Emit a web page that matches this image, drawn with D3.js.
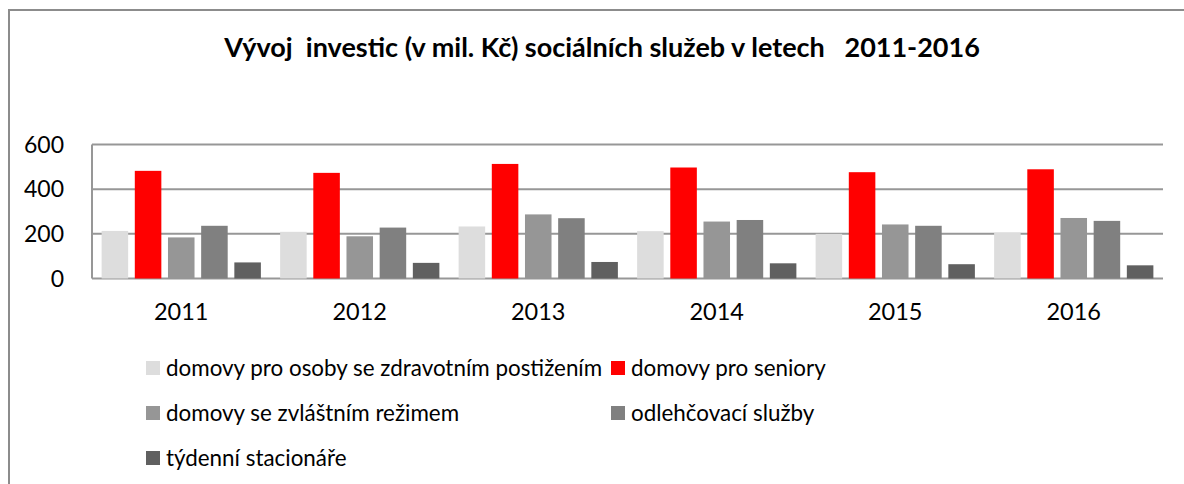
<!DOCTYPE html>
<html>
<head>
<meta charset="utf-8">
<script src="https://cdn.jsdelivr.net/npm/d3@7"></script>
<style>
  body { margin: 0; background: #fff; }
  svg { display: block; font-family: Lato, "Open Sans", sans-serif; }
</style>
</head>
<body>
<svg></svg>
<script>
const years = ["2011", "2012", "2013", "2014", "2015", "2016"]
const seriesNames = [
    "domovy pro osoby se zdravotním postižením",
    "domovy pro seniory",
    "domovy se zvláštním režimem",
    "odlehčovací služby",
    "týdenní stacionáře"
]
const seriesColors = ["#dddddd", "#ff0000", "#969696", "#808080", "#606060"]

// hodnoty per serie, v pořadí roků
const zdravotni = [213, 209, 233, 212, 200, 204]
const seniori = [482, 473, 513, 497, 476, 489]
const rezim = [184, 189, 287, 255, 242, 271]
const odlehcovaci = [236, 228, 270, 262, 236, 258]
const stacionare = [72, 70, 74, 68, 64, 59]
const yTicks = [0, 200, 400, 600]

const allSeries = [zdravotni, seniori, rezim, odlehcovaci, stacionare]

const width = 1184
const height = 484
const svg = d3.select('svg')
    .attr("width", width)
    .attr("height", height)

// rámeček grafu
svg.append("path")
    .attr("d", `M9,${height} V10 H${width}`)
    .attr("fill", "none")
    .attr("stroke", "#8c8c8c")
    .attr("stroke-width", 2)

svg.append("text")
    .attr("x", 602)
    .attr("y", 57)
    .attr("text-anchor", "middle")
    .attr("font-weight", "bold")
    .attr("font-size", 27)
    .attr("fill", "#000")
    .style("white-space", "pre")
    .text("Vývoj  investic (v mil. Kč) sociálních služeb v letech   2011-2016")

const plot = { left: 92, right: 1163, top: 144.5, bottom: 278.5 }

const x = d3.scaleBand()
    .domain(years)
    .range([plot.left, plot.right])

const xInner = d3.scaleBand()
    .domain(d3.range(seriesNames.length))
    .range([0, x.bandwidth()])
    .paddingInner(0.2)
    .paddingOuter(0.29)

const y = d3.scaleLinear()
    .domain([0, 600])
    .range([plot.bottom, plot.top])

// mřížka
svg.append("g")
    .selectAll("line")
    .data(yTicks)
    .join("line")
    .attr("x1", plot.left)
    .attr("x2", plot.right)
    .attr("y1", d => y(d))
    .attr("y2", d => y(d))
    .attr("stroke", "#979797")
    .attr("stroke-width", 2)

svg.append("line")
    .attr("x1", plot.left)
    .attr("x2", plot.left)
    .attr("y1", y(600))
    .attr("y2", y(0))
    .attr("stroke", "#979797")
    .attr("stroke-width", 2)

// sloupce
const groups = svg.append("g")
    .selectAll("g")
    .data(years)
    .join("g")
    .attr("transform", d => `translate(${x(d)},0)`)

groups.selectAll("rect")
    .data((d, i) => allSeries.map((s, k) => ({ k: k, value: s[i] })))
    .join("rect")
    .attr("x", d => xInner(d.k))
    .attr("width", xInner.bandwidth())
    .attr("y", d => y(d.value))
    .attr("height", d => y(0) - y(d.value))
    .attr("fill", d => seriesColors[d.k])

// osa y
svg.append("g")
    .selectAll("text")
    .data(yTicks)
    .join("text")
    .attr("x", 64)
    .attr("y", d => y(d))
    .attr("dy", "0.35em")
    .attr("text-anchor", "end")
    .attr("font-size", 23)
    .text(d => d)

// osa x
svg.append("g")
    .selectAll("text")
    .data(years)
    .join("text")
    .attr("x", d => x(d) + x.bandwidth() / 2)
    .attr("y", 320)
    .attr("text-anchor", "middle")
    .attr("font-size", 23.5)
    .text(d => d)

// legenda
const legendPos = [
    { x: 146, y: 368 },
    { x: 611, y: 368 },
    { x: 146, y: 413 },
    { x: 611, y: 413 },
    { x: 146, y: 458 }
]

const legend = svg.append("g")
    .selectAll("g")
    .data(seriesNames)
    .join("g")
    .attr("transform", (d, i) => `translate(${legendPos[i].x},${legendPos[i].y})`)

legend.append("rect")
    .attr("x", 0)
    .attr("y", -7)
    .attr("width", 14)
    .attr("height", 14)
    .attr("fill", (d, i) => seriesColors[i])

legend.append("text")
    .attr("x", 20)
    .attr("dy", "0.35em")
    .attr("font-size", 22.4)
    .text(d => d)
</script>
</body>
</html>
